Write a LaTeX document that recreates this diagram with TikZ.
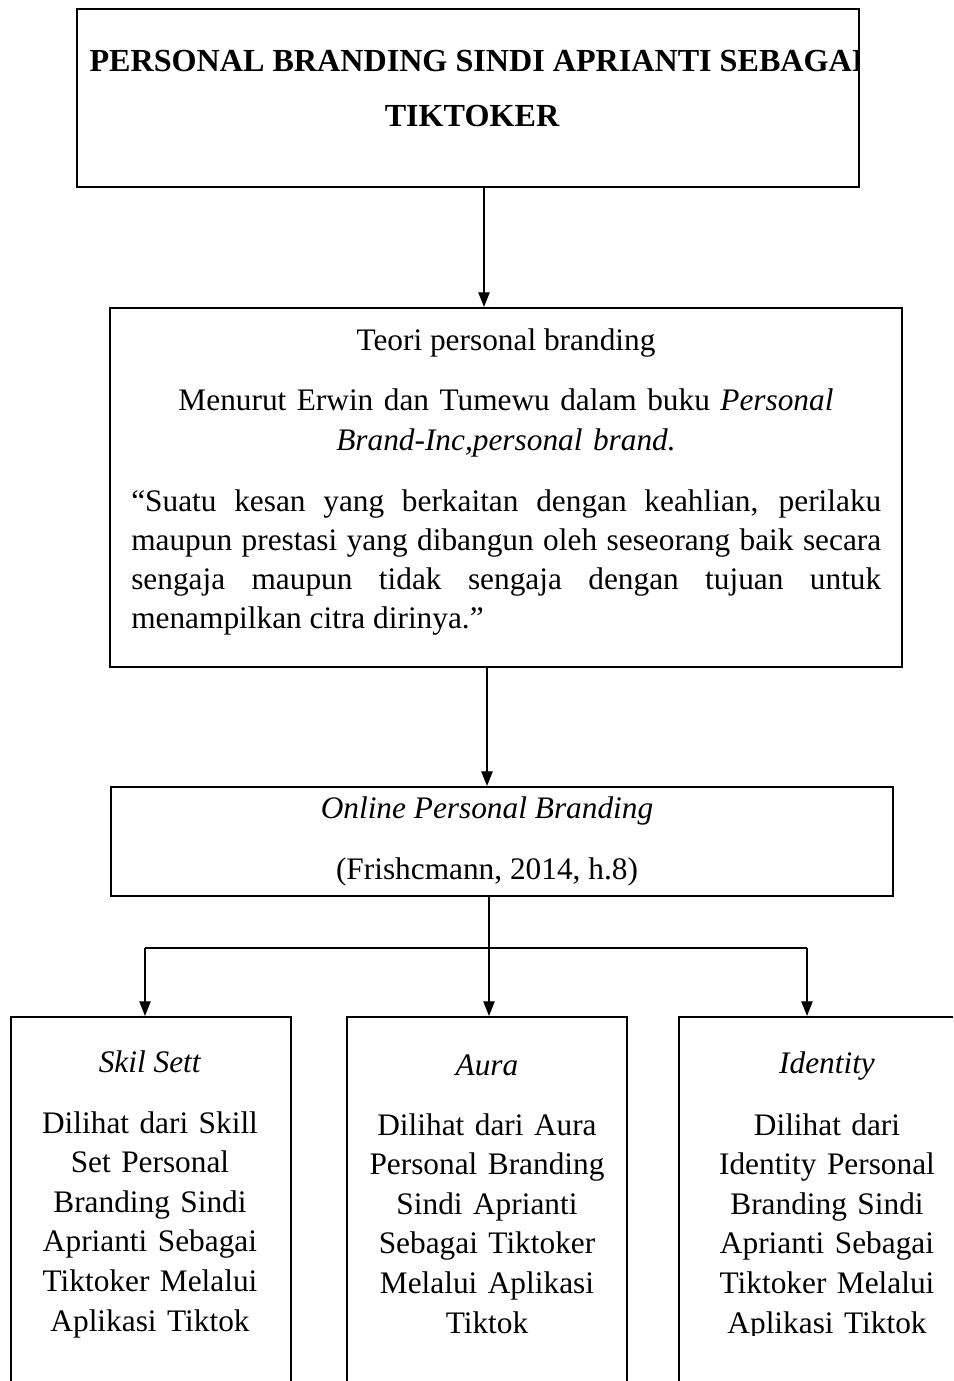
\documentclass[tikz,border=0pt]{standalone}
\usepackage{fontspec}
\setmainfont{Liberation Serif}
\usetikzlibrary{arrows.meta,fit}
\begin{document}
\begin{tikzpicture}[x=0.75pt,y=-0.75pt,
  box/.style={draw,line width=1.6pt,inner sep=0pt},
  one/.style={inner sep=0pt,anchor=base,font=\fontsize{23.5}{30}\selectfont},
  multi/.style={inner sep=0pt,anchor=base,text width=#1,align=center,font=\fontsize{23.5}{29.7}\selectfont},
  conn/.style={line width=1pt},
  arr/.style={line width=1pt,-{Triangle[length=11pt,width=8.5pt]}}]
\useasboundingbox (0,0) rectangle (953,1381);
\clip (0,0) rectangle (953,1381);
% title
\begin{scope}
\clip (77,9) rectangle (859,187);
\node[one,font=\fontsize{24.1}{30}\bfseries\selectfont] (t1) at (477,71) {PERSONAL BRANDING SINDI APRIANTI SEBAGAI};
\node[one,font=\fontsize{24.1}{30}\bfseries\selectfont] (t2) at (472,126) {TIKTOKER};
\end{scope}
\node[box,fit={(77,9)(859,187)}] (top) {};
% theory
\node[one] (th1) at (506,350) {Teori personal branding};
\node[multi=580pt,font=\fontsize{23.5}{30}\selectfont] (th2) at (506,410) {Menurut Erwin dan Tumewu dalam buku \textit{Personal}\\\textit{Brand-Inc,personal brand.}};
\node[inner sep=0pt,anchor=base west,text width=562.5pt,align=justify,font=\fontsize{23.5}{29.25}\selectfont] (th3) at (131,511)
  {\tolerance=10000\hyphenpenalty=10000 “Suatu kesan yang berkaitan dengan keahlian, perilaku\linebreak maupun prestasi yang dibangun oleh seseorang baik secara\linebreak sengaja maupun tidak sengaja dengan tujuan untuk\linebreak menampilkan citra dirinya.”};
\node[box,fit={(110,308)(902,667)}] (theory) {};
% online
\node[one] (on1) at (487,818) {\textit{Online Personal Branding}};
\node[one] (on2) at (487,879) {(Frishcmann, 2014, h.8)};
\node[box,fit={(111,787)(893,896)}] (online) {};
% bottom boxes
\node[box,fit={(11,1017)(291,1450)}] (ba) {};
\node[box,fit={(347,1017)(627,1450)}] (bb) {};
\node[box,fit={(679,1017)(975,1450)}] (bc) {};
\node[one] (a1) at (150,1072) {\textit{Skil Sett}};
\node[multi=205pt] (a2) at (150,1133) {Dilihat dari Skill\\Set Personal\\Branding Sindi\\Aprianti Sebagai\\Tiktoker Melalui\\Aplikasi Tiktok};
\node[one] (b1) at (487,1075) {\textit{Aura}};
\node[multi=205pt] (b2) at (487,1135) {Dilihat dari Aura\\Personal Branding\\Sindi Aprianti\\Sebagai Tiktoker\\Melalui Aplikasi\\Tiktok};
\node[one] (c1t) at (827,1073) {\textit{Identity}};
\begin{scope}
\clip (679,1017) rectangle (975,1335);
\node[multi=205pt] (c2t) at (827,1135) {Dilihat dari\\Identity Personal\\Branding Sindi\\Aprianti Sebagai\\Tiktoker Melalui\\Aplikasi Tiktok};
\end{scope}
% connectors
\coordinate (x1) at (484,0);
\coordinate (x2) at (487,0);
\coordinate (x3) at (489,0);
\coordinate (jl) at (145,948);
\coordinate (jr) at (807,948);
\draw[arr] (top.south -| x1) -- (theory.north -| x1);
\draw[arr] (theory.south -| x2) -- (online.north -| x2);
\draw[arr] (online.south -| x3) -- (bb.north -| x3);
\draw[conn] (jl) -- (jr);
\draw[arr] (jl) -- (ba.north -| jl);
\draw[arr] (jr) -- (bc.north -| jr);
\end{tikzpicture}
\end{document}
